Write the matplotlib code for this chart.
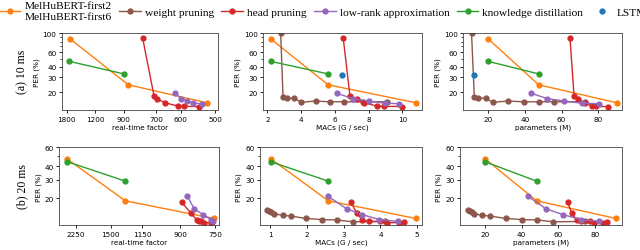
import numpy as np
import matplotlib.pyplot as plt
from matplotlib.ticker import NullFormatter

# ---- data: (a) 10 ms ----
a_mel_rtf = [1702, 866, 521]
a_mel_macs = [2.2, 5.6, 10.8]
a_mel_par = [20, 47.5, 90]
a_mel_per = [86, 24.5, 15]

a_kd_rtf = [1722, 898]
a_kd_macs = [2.2, 5.6]
a_kd_par = [20, 47.5]
a_kd_per = [46.5, 33]

a_lstm_macs = [6.4]
a_lstm_par = [12.2]
a_lstm_per = [32]

a_head_rtf = [772, 711, 696, 661, 611, 589, 542]
a_head_macs = [6.5, 6.9, 7.3, 7.7, 8.5, 8.9, 10.0]
a_head_par = [64.6, 66.8, 69.2, 72.5, 76.5, 78.5, 85.5]
a_head_per = [87, 17.9, 16.6, 15.0, 13.7, 13.6, 13.5]

a_lr_rtf = [621, 599, 578, 559, 533]
a_lr_macs = [6.1, 7.05, 8.0, 9.0, 9.8]
a_lr_par = [43.2, 52.2, 61.5, 71.1, 80.3]
a_lr_per = [19.5, 16.8, 15.7, 14.8, 14.6]

a_wp_macs = [2.79, 2.93, 3.17, 3.6, 4.0, 4.87, 5.7, 6.57, 7.68, 9.07]
a_wp_par = [10.9, 12.4, 14.2, 18.6, 22.4, 31, 39.4, 47.8, 56.1, 73]
a_wp_per = [100, 17.7, 17.0, 16.9, 15.2, 15.7, 15.4, 15.4, 15.4, 15.4]

# ---- data: (b) 20 ms ----
b_mel_rtf = [2598, 1316, 754]
b_mel_macs = [1.01, 2.58, 4.96]
b_mel_par = [20, 48.2, 91.5]
b_mel_per = [47, 19, 13]

b_kd_rtf = [2571, 1316]
b_kd_macs = [1.01, 2.58]
b_kd_par = [20, 48.2]
b_kd_per = [44, 29]

b_head_rtf = [893, 848, 822, 811, 804, 790, 766, 760]
b_head_macs = [3.2, 3.35, 3.5, 3.69, 4.0, 4.17, 4.51, 4.64]
b_head_par = [65.1, 67.3, 70, 72.4, 77.3, 79.5, 84.2, 86.7]
b_head_per = [18.4, 14.6, 12.6, 12.2, 12.2, 11.9, 11.9, 12.0]

b_lr_rtf = [865, 833, 795, 765, 758]
b_lr_macs = [2.58, 3.08, 3.51, 3.97, 4.47]
b_lr_par = [43.6, 53.3, 62.7, 72.4, 82.2]
b_lr_per = [20.9, 16.0, 14.1, 12.7, 12.2]

b_wp_macs = [0.92, 0.97, 1.03, 1.1, 1.34, 1.56, 1.97, 2.4, 2.81, 3.24, 4.12]
b_wp_par = [10.6, 11.8, 13.1, 14.2, 18.5, 22.7, 31.5, 40, 48.5, 57.3, 74.5]
b_wp_per = [15.5, 15.2, 14.9, 14.4, 13.9, 13.7, 13.0, 12.7, 12.6, 12.1, 12.2]

c_mel, c_wp, c_head = '#ff7f0e', '#8c564b', '#d62728'
c_lr, c_kd, c_lstm = '#9467bd', '#2ca02c', '#1f77b4'

W, H = 640, 251
fig = plt.figure(figsize=(6.4, 2.51), dpi=100)


def add_ax(x0, x1, y0, y1):
    return fig.add_axes([x0 / W, 1 - y1 / H, (x1 - x0) / W, (y1 - y0) / H])


def inv(x):
    x = np.asarray(x, dtype=float)
    with np.errstate(divide='ignore'):
        return 1.0 / np.where(x == 0, 1e-12, x)


kw = dict(marker='o', markersize=3.5, linewidth=1)


def style(ax, xlabel, yticks, ylim):
    ax.set_yscale('log')
    ax.set_ylim(*ylim)
    ax.set_yticks(yticks)
    ax.set_yticklabels([str(t) for t in yticks])
    ax.yaxis.set_minor_formatter(NullFormatter())
    ax.set_xlabel(xlabel, fontsize=5.2, labelpad=1.5)
    ax.set_ylabel('PER (%)', fontsize=5.2, labelpad=2)
    ax.tick_params(labelsize=5.2, length=2.5, width=0.6, pad=1.5)
    ax.tick_params(which='minor', length=1.5, width=0.5)
    for s in ax.spines.values():
        s.set_linewidth(0.6)
        s.set_color('#444444')


rows = [
    dict(y0=34, y1=111, ylim=(12.3, 101), yt=[20, 30, 40, 60, 100],
         rtf_ticks=[1800, 1200, 900, 700, 600, 500], rtf_lim=(493, 1962),
         macs_lim=(1.76, 11.15), par_lim=(6.4, 93.1),
         mel=(a_mel_rtf, a_mel_macs, a_mel_par, a_mel_per),
         kd=(a_kd_rtf, a_kd_macs, a_kd_par, a_kd_per),
         head=(a_head_rtf, a_head_macs, a_head_par, a_head_per),
         lr=(a_lr_rtf, a_lr_macs, a_lr_par, a_lr_per),
         wp=(a_wp_macs, a_wp_par, a_wp_per),
         lstm=(a_lstm_macs, a_lstm_par, a_lstm_per)),
    dict(y0=148.3, y1=226, ylim=(11.3, 60), yt=[20, 30, 40, 60],
         rtf_ticks=[2250, 1500, 1150, 900, 750], rtf_lim=(736, 2962),
         macs_lim=(0.72, 5.13), par_lim=(6.4, 94.6),
         mel=(b_mel_rtf, b_mel_macs, b_mel_par, b_mel_per),
         kd=(b_kd_rtf, b_kd_macs, b_kd_par, b_kd_per),
         head=(b_head_rtf, b_head_macs, b_head_par, b_head_per),
         lr=(b_lr_rtf, b_lr_macs, b_lr_par, b_lr_per),
         wp=(b_wp_macs, b_wp_par, b_wp_per),
         lstm=None),
]
xcols = [[(62, 218), (263.3, 421.7), (463.3, 622.3)],
         [(59.3, 219), (260, 422), (460, 621.7)]]

handles = None
for r, row in enumerate(rows):
    # real-time factor (1/x axis)
    c0 = xcols[r][0]
    ax = add_ax(c0[0], c0[1], row['y0'], row['y1'])
    ax.set_xscale('function', functions=(inv, inv))
    ax.plot(row['mel'][0], row['mel'][3], color=c_mel, **kw)
    ax.plot(row['kd'][0], row['kd'][3], color=c_kd, **kw)
    ax.plot(row['head'][0], row['head'][3], color=c_head, **kw)
    ax.plot(row['lr'][0], row['lr'][3], color=c_lr, **kw)
    ax.set_xlim(*row['rtf_lim'])
    ax.set_xticks(row['rtf_ticks'])
    ax.set_xticklabels([str(t) for t in row['rtf_ticks']])
    ax.xaxis.set_minor_formatter(NullFormatter())
    ax.xaxis.set_minor_locator(plt.NullLocator())
    style(ax, 'real-time factor', row['yt'], row['ylim'])

    # MACs and parameters
    for j, (idx, xl, lim) in enumerate([(1, 'MACs (G / sec)', row['macs_lim']),
                                         (2, 'parameters (M)', row['par_lim'])]):
        cc = xcols[r][j + 1]
        ax = add_ax(cc[0], cc[1], row['y0'], row['y1'])
        l1, = ax.plot(row['mel'][idx], row['mel'][3], color=c_mel, **kw)
        l2, = ax.plot(row['wp'][idx - 1], row['wp'][2], color=c_wp, **kw)
        l3, = ax.plot(row['head'][idx], row['head'][3], color=c_head, **kw)
        l4, = ax.plot(row['lr'][idx], row['lr'][3], color=c_lr, **kw)
        l5, = ax.plot(row['kd'][idx], row['kd'][3], color=c_kd, **kw)
        if row['lstm'] is not None:
            l6, = ax.plot(row['lstm'][idx - 1], row['lstm'][2], color=c_lstm,
                          linestyle='none', marker='o', markersize=3.5)
            handles = [l1, l2, l3, l4, l5, l6]
        ax.set_xlim(*lim)
        style(ax, xl, row['yt'], row['ylim'])

labels = ['MelHuBERT-first2\nMelHuBERT-first6', 'weight pruning', 'head pruning',
          'low-rank approximation', 'knowledge distillation', 'LSTM']
fig.legend(handles, labels, loc='center left', bbox_to_anchor=(-0.009, 1 - 12 / H),
           ncol=6, frameon=False, handlelength=1.9, handletextpad=0.35,
           columnspacing=0.65, borderaxespad=0, labelspacing=0.2,
           prop={'family': 'Liberation Serif', 'size': 8.2})

fig.text(22 / W, 1 - 72 / H, '(a) 10 ms', rotation=90, va='center', ha='center',
         family='Liberation Serif', fontsize=8.5)
fig.text(22 / W, 1 - 187 / H, '(b) 20 ms', rotation=90, va='center', ha='center',
         family='Liberation Serif', fontsize=8.5)

fig.savefig('out.png', dpi=100)
